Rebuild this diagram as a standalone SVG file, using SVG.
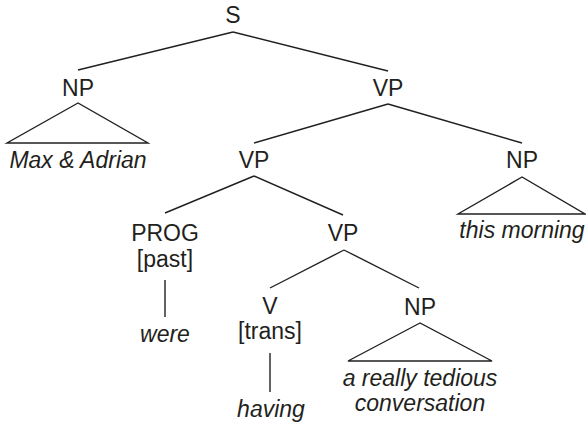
<svg xmlns="http://www.w3.org/2000/svg" width="586" height="425" viewBox="0 0 586 425">
<style>
.t{font-family:"Liberation Sans",Arial,sans-serif;font-size:23px;fill:#231f20;text-anchor:middle}
.i{font-style:italic}
.l{stroke:#231f20;stroke-width:1.4;fill:none;stroke-linejoin:miter}
</style>
<rect width="586" height="425" fill="#fff"/>
<g id="connectors">
<line class="l" x1="233" y1="32" x2="78" y2="70"/>
<line class="l" x1="233" y1="32" x2="388" y2="71"/>
<polygon class="l" points="78,103 7,143 148,143"/>
<line class="l" x1="388" y1="104" x2="254" y2="143"/>
<line class="l" x1="388" y1="104" x2="522" y2="143"/>
<line class="l" x1="254" y1="176" x2="165" y2="213"/>
<line class="l" x1="254" y1="176" x2="343" y2="215"/>
<polygon class="l" points="522,177 458,214 585,214"/>
<line class="l" x1="165" y1="280" x2="165" y2="317"/>
<line class="l" x1="344" y1="250" x2="270" y2="288"/>
<line class="l" x1="344" y1="250" x2="419" y2="288"/>
<line class="l" x1="270" y1="353" x2="270" y2="392"/>
<polygon class="l" points="420,323 348,361 492,361"/>
</g>
<g id="S"><text class="t" x="233" y="23">S</text></g>
<g id="NP1"><text class="t" x="78" y="96">NP</text></g>
<g id="MaxAdrian"><text class="t i" x="78" y="168">Max &amp; Adrian</text></g>
<g id="VP1"><text class="t" x="388" y="96">VP</text></g>
<g id="VP2"><text class="t" x="254" y="168">VP</text></g>
<g id="NP2"><text class="t" x="522" y="168">NP</text></g>
<g id="thismorning"><text class="t i" x="522" y="238">this morning</text></g>
<g id="PROG"><text class="t" x="165" y="241">PROG</text><text class="t" x="165" y="267">[past]</text></g>
<g id="were"><text class="t i" x="165" y="342">were</text></g>
<g id="VP3"><text class="t" x="343" y="241">VP</text></g>
<g id="V"><text class="t" x="270" y="314">V</text><text class="t" x="270" y="339">[trans]</text></g>
<g id="having"><text class="t i" x="271" y="417">having</text></g>
<g id="NP3"><text class="t" x="420" y="315">NP</text></g>
<g id="conversation"><text class="t i" x="420" y="386">a really tedious</text><text class="t i" x="420" y="411">conversation</text></g>
</svg>
